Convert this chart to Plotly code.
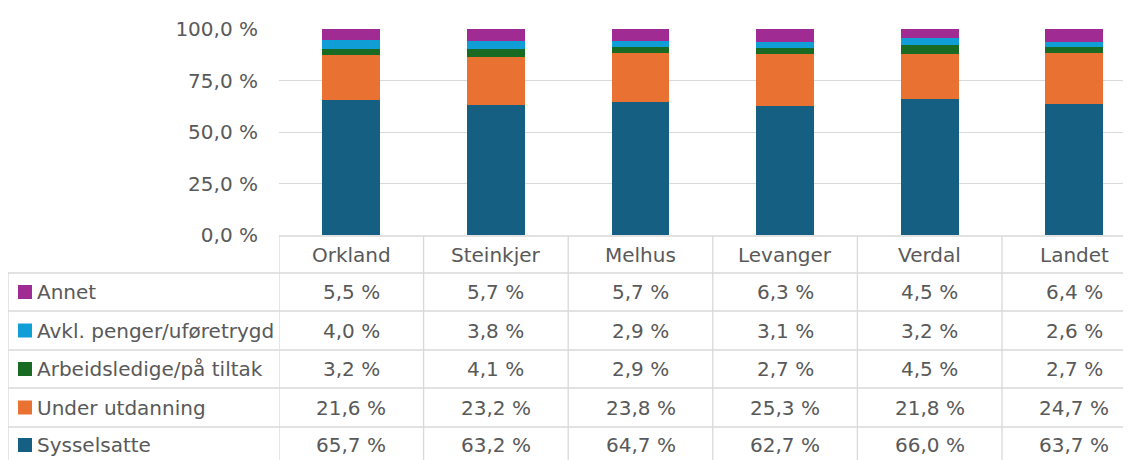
import plotly.graph_objects as go

categories = ["Orkland", "Steinkjer", "Melhus", "Levanger", "Verdal", "Landet"]
series_names = ["Sysselsatte", "Under utdanning", "Arbeidsledige/på tiltak",
                "Avkl. penger/uføretrygd", "Annet"]
sysselsatte = [65.7, 63.2, 64.7, 62.7, 66.0, 63.7]
under_utdanning = [21.6, 23.2, 23.8, 25.3, 21.8, 24.7]
arbeidsledige = [3.2, 4.1, 2.9, 2.7, 4.5, 2.7]
avkl_penger = [4.0, 3.8, 2.9, 3.1, 3.2, 2.6]
annet = [5.5, 5.7, 5.7, 6.3, 4.5, 6.4]
y_ticks = [0, 25, 50, 75, 100]
values = [sysselsatte, under_utdanning, arbeidsledige, avkl_penger, annet]
colors = ["#156082", "#E97132", "#196B24", "#0F9ED5", "#A02B93"]


def pct(v):
    return f"{v:.1f}".replace(".", ",") + " %"


# page body has an 8px default margin: work in screen pixels, convert to figure
OFF = 8
W, H = 1131, 460
L = 279 - OFF
T = 29 - OFF
PB = 235 - OFF          # figure pixel y of plot bottom
B = H - PB
R = 0
PH = H - T - B
PW = W - L - R
CAT_PX = 144.6
FONT = "DejaVu Sans"
GREY = "#595959"
BORDER = "#D9D9D9"


def py(p):  # screen pixel y -> paper
    return (PB - (p - OFF)) / PH


def px(p):  # screen pixel x -> paper
    return ((p - OFF) - L) / PW


fig = go.Figure()
xs = list(range(len(categories)))
for name, vals, col in zip(series_names, values, colors):
    fig.add_trace(go.Bar(x=xs, y=vals, name=name, marker_color=col,
                         marker_line_width=0, width=0.40))

fig.update_layout(
    barmode="stack", width=W, height=H, showlegend=False,
    margin=dict(l=L, r=R, t=T, b=B, pad=0, autoexpand=False),
    paper_bgcolor="white", plot_bgcolor="white",
    font=dict(family=FONT, size=20, color=GREY),
    xaxis=dict(range=[-0.5, -0.5 + PW / CAT_PX], showticklabels=False, showgrid=False,
               zeroline=False, showline=False, ticks="", automargin=False),
    yaxis=dict(range=[0, 100], tickmode="array", tickvals=y_ticks,
               ticktext=[pct(v) for v in y_ticks],
               showgrid=True, gridcolor=BORDER, gridwidth=1, automargin=False,
               zeroline=False, showline=False, ticks="", ticklabelstandoff=20,
               tickfont=dict(family=FONT, size=20, color=GREY)),
)

shapes = []
ann = []
hdr_top, hdr_bot = 236, 273
row_bounds = [273, 311, 350, 388, 427, 466]
shapes.append(dict(type="line", xref="paper", yref="paper", x0=0, x1=1.02,
                   y0=py(hdr_top), y1=py(hdr_top), line=dict(color=BORDER, width=1.3)))
for yb in row_bounds:
    shapes.append(dict(type="line", xref="paper", yref="paper", x0=px(8), x1=1.02,
                       y0=py(yb), y1=py(yb), line=dict(color=BORDER, width=1.3)))
shapes.append(dict(type="line", xref="paper", yref="paper", x0=px(8), x1=px(8),
                   y0=py(row_bounds[0]), y1=py(480), line=dict(color=BORDER, width=1.3)))
for i in range(len(categories) + 1):
    shapes.append(dict(type="line", xref="x", yref="paper", x0=i - 0.5, x1=i - 0.5,
                       y0=py(hdr_top), y1=py(480), line=dict(color=BORDER, width=1.3)))

for i, c in enumerate(categories):
    ann.append(dict(x=i, y=py((hdr_top + hdr_bot) / 2), xref="x", yref="paper",
                    text=c, showarrow=False, xanchor="center", yanchor="middle",
                    font=dict(family=FONT, size=20, color=GREY)))

order = list(range(len(series_names)))[::-1]
row_centers = [292, 330.5, 369, 407.5, 445]
for r, si in enumerate(order):
    yc = py(row_centers[r])
    shapes.append(dict(type="rect", xref="paper", yref="paper",
                       x0=px(18), x1=px(32), y0=yc - 7 / PH, y1=yc + 7 / PH,
                       fillcolor=colors[si], line=dict(width=0)))
    ann.append(dict(x=px(35), y=yc, xref="paper", yref="paper", text=series_names[si],
                    showarrow=False, xanchor="left", yanchor="middle",
                    font=dict(family=FONT, size=20, color=GREY)))
    for i, v in enumerate(values[si]):
        ann.append(dict(x=i, y=yc, xref="x", yref="paper", text=pct(v),
                        showarrow=False, xanchor="center", yanchor="middle",
                        font=dict(family=FONT, size=20, color=GREY)))

fig.update_layout(shapes=shapes, annotations=ann)
fig.write_html("out.html")
